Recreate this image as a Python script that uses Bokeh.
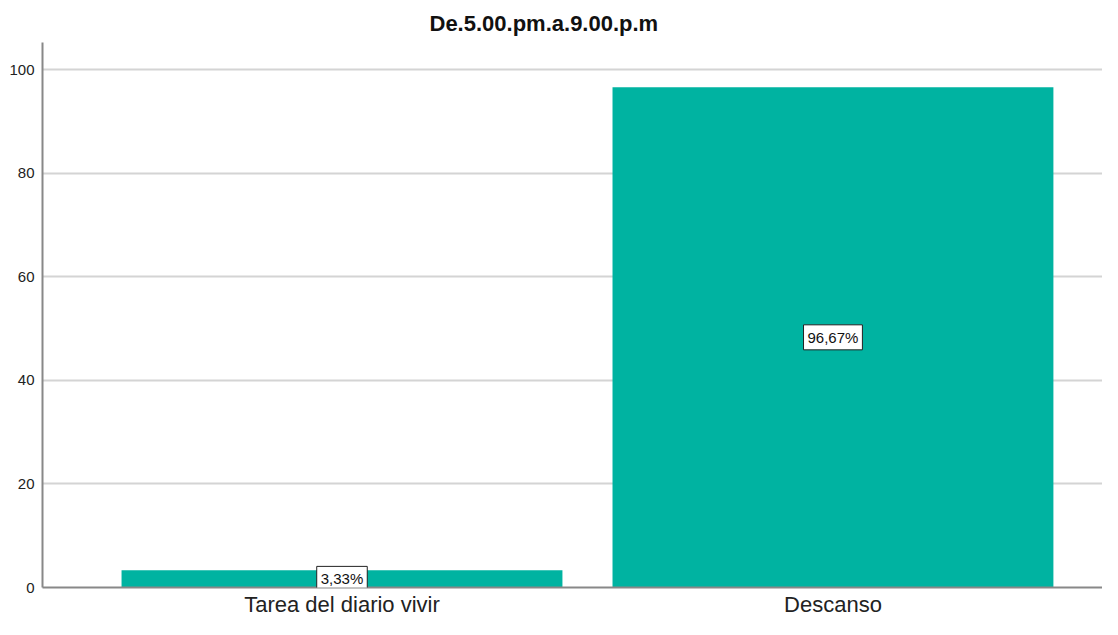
from bokeh.plotting import figure
from bokeh.models import ColumnDataSource, Label, Range1d, FixedTicker
from bokeh.embed import file_html
from bokeh.resources import INLINE

categories = ["Tarea del diario vivir", "Descanso"]
values = [3.33, 96.67]
y_ticks = [0, 20, 40, 60, 80, 100]

xs = list(range(len(categories)))
labels = [("%.2f%%" % v).replace(".", ",") for v in values]
src = ColumnDataSource(dict(x=xs, top=values))

p = figure(width=1102, height=619, output_backend="svg", toolbar_location=None,
           x_range=Range1d(-0.61, 1.549), y_range=Range1d(0, 105.3),
           min_border_left=42, min_border_right=0, min_border_top=42, min_border_bottom=0)
p.outline_line_color = None
p.background_fill_color = "white"

p.title.text = "De.5.00.pm.a.9.00.p.m"
p.title.align = "left"
p.title.offset = 387
p.title.text_font = "Liberation Sans"
p.title.text_font_size = "22px"
p.title.text_font_style = "bold"
p.title.text_color = "#111111"
p.title.standoff = 13

p.vbar(x="x", top="top", width=0.898, source=src, fill_color="#00b3a1", line_color=None)

pad_kw = {"padding": 4} if "padding" in Label.properties() else {}
for xi, v, lab in zip(xs, values, labels):
    p.add_layout(Label(x=xi, y=v / 2, text=lab, text_align="center", text_baseline="middle",
                       text_font_size="15px", text_font="Liberation Sans", text_color="#111111",
                       background_fill_color="white", border_line_color="#222222",
                       border_line_width=1, **pad_kw))

p.xgrid.grid_line_color = None
p.ygrid.grid_line_color = "#d4d4d4"
p.ygrid.grid_line_width = 2
p.yaxis.ticker = FixedTicker(ticks=y_ticks)
p.xaxis.ticker = FixedTicker(ticks=xs)
p.xaxis.major_label_overrides = {i: c for i, c in enumerate(categories)}

for ax in (p.xaxis, p.yaxis):
    ax.axis_line_color = "#888888"
    ax.axis_line_width = 2
    ax.major_tick_line_color = None
    ax.minor_tick_line_color = None
    ax.major_tick_out = 0
    ax.major_tick_in = 0
    ax.axis_label_standoff = 0
    ax.major_label_text_font = "Liberation Sans"

p.yaxis.major_label_text_font_size = "15px"
p.yaxis.major_label_text_color = "#222222"
p.yaxis.major_label_standoff = 8
p.xaxis.major_label_text_font_size = "22px"
p.xaxis.major_label_text_color = "#222222"
p.xaxis.major_label_standoff = 4

open("out.html", "w").write(file_html(p, INLINE))
